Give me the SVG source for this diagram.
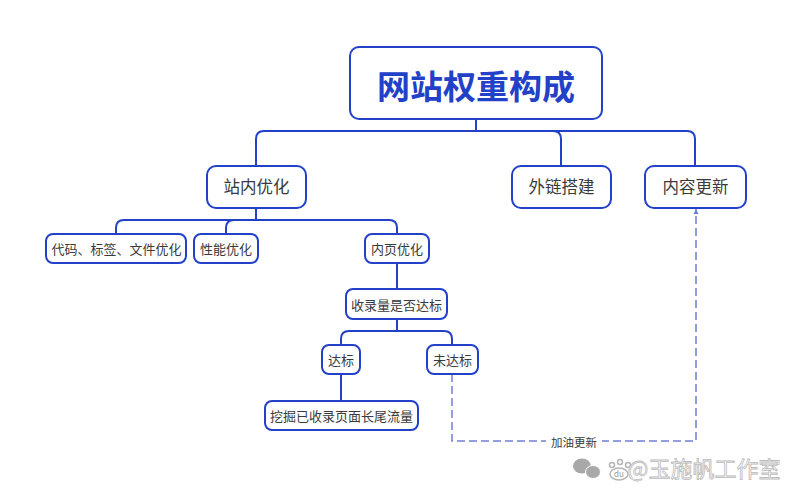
<svg xmlns="http://www.w3.org/2000/svg" width="792" height="500" viewBox="0 0 792 500">
<style>
text{font-family:"Noto Sans CJK SC","Liberation Sans",sans-serif;text-anchor:middle;fill:#3a3a3a}
.n{fill:#fff;stroke:#2340c8;stroke-width:2}
.c{fill:none;stroke:#2340c8;stroke-width:2}
.t18{font-size:16.500px}
.t13{font-size:13px}
</style>
<defs><marker id="a" markerUnits="userSpaceOnUse" markerWidth="6" markerHeight="6" refX="5" refY="3" orient="auto"><path d="M0 0.500L5 3L0 5.500z" fill="#6f7fd8"/></marker></defs>
<rect width="792" height="500" fill="#fff"/>
<g id="connectors">
<path class="c" d="M476 119V131M256 166V139Q256 131 264 131H687Q695 131 695 139V166M476 131H553Q561 131 561 139V166"/>
<path class="c" d="M256 208V220M116 234V228Q116 220 124 220H389Q397 220 397 228V234M226 234V228Q226 220 234 220"/>
<path class="c" d="M397 263V289M397 319V331M341 345V339Q341 331 349 331H444Q452 331 452 339V345M341 374V401"/>
<path d="M452 374V441H696V209" fill="none" stroke="#6f7fd8" stroke-width="1.500" stroke-dasharray="8 4" marker-end="url(#a)"/>
<rect x="546" y="434" width="56" height="15" fill="#fff"/>
<text x="574" y="446.500" font-size="11.500">加油更新</text>
</g>
<g id="root"><rect class="n" x="350" y="47" width="252" height="72" rx="9"/><text x="476" y="99" font-size="33" font-weight="700" style="fill:#2340c8">网站权重构成</text></g>
<g id="n-onsite"><rect class="n" x="207" y="166" width="99" height="42" rx="9"/><text class="t18" x="256.500" y="193">站内优化</text></g>
<g id="n-links"><rect class="n" x="512" y="166" width="99" height="42" rx="9"/><text class="t18" x="561.500" y="193">外链搭建</text></g>
<g id="n-content"><rect class="n" x="645" y="166" width="101" height="42" rx="9"/><text class="t18" x="695.500" y="193">内容更新</text></g>
<g id="n-code"><rect class="n" x="46" y="234" width="140" height="29" rx="7"/><text class="t13" x="116.500" y="254">代码、标签、文件优化</text></g>
<g id="n-perf"><rect class="n" x="194" y="234" width="64" height="29" rx="7"/><text class="t13" x="226" y="254">性能优化</text></g>
<g id="n-inner"><rect class="n" x="365" y="234" width="64" height="29" rx="7"/><text class="t13" x="397" y="254">内页优化</text></g>
<g id="n-check"><rect class="n" x="346" y="289" width="101" height="30" rx="7"/><text class="t13" x="396.500" y="309.500">收录量是否达标</text></g>
<g id="n-pass"><rect class="n" x="322" y="345" width="38" height="29" rx="7"/><text class="t13" x="341" y="365">达标</text></g>
<g id="n-fail"><rect class="n" x="427" y="345" width="51" height="29" rx="7"/><text class="t13" x="452.500" y="365">未达标</text></g>
<g id="n-mine"><rect class="n" x="265" y="401" width="153" height="29" rx="7"/><text class="t13" x="341.500" y="421">挖掘已收录页面长尾流量</text></g>
<g id="watermark">
<ellipse cx="582" cy="466" rx="9" ry="7.500" fill="#a8a8a8"/><ellipse cx="593" cy="472" rx="7.500" ry="6.500" fill="#a8a8a8" stroke="#fff"/>
<g fill="none" stroke="#b5b5b5" stroke-width="1.500"><circle cx="612" cy="465" r="2.500"/><circle cx="620" cy="462" r="2.500"/><circle cx="628" cy="465" r="2.500"/><ellipse cx="619" cy="474" rx="9" ry="6"/></g>
<text x="619" y="477" font-size="8" style="fill:#999">du</text>
<text x="704" y="477" font-size="22" stroke="#bbb" stroke-width="0.800" style="fill:#fff">@玉施帆工作室</text>
</g>
</svg>
